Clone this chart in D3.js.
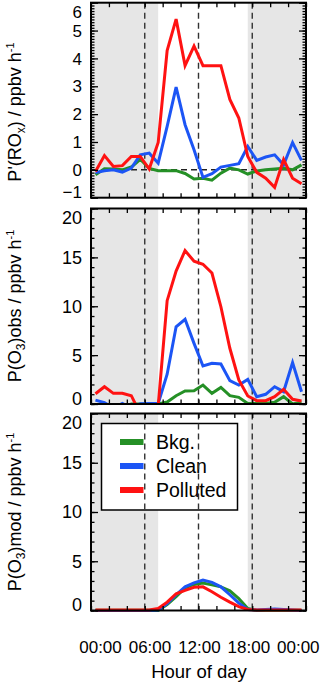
<!DOCTYPE html>
<html>
<head>
<meta charset="utf-8">
<script src="https://cdn.jsdelivr.net/npm/d3@7"></script>
<style>
  body { margin: 0; background: #fff; }
  svg { display: block; }
  text { font-family: "Liberation Sans", Arial, Helvetica, sans-serif; fill: #000; }
</style>
</head>
<body>
<svg id="chart" width="320" height="683"></svg>
<script>
// ---- data ----
var hours = [0.5, 1.5, 2.5, 3.5, 4.5, 5.5, 6.5, 7.5, 8.5, 9.5, 10.5, 11.5,
             12.5, 13.5, 14.5, 15.5, 16.5, 17.5, 18.5, 19.5, 20.5, 21.5, 22.5, 23.5];

var seriesNames  = ["Bkg.", "Clean", "Polluted"];
var seriesColors = ["#259026", "#1c55f5", "#ff1212"];

// P'(ROx)
var roxBkg      = [-0.18, 0.04, 0.03, 0.0, 0.1, 0.38, 0.05, -0.03, -0.03, -0.03, -0.13, -0.33,
                   -0.3, -0.37, -0.12, 0.06, 0.0, -0.15, -0.04, 0.0, 0.03, 0.06, 0.0, 0.18];
var roxClean    = [-0.1, -0.03, 0.0, -0.08, 0.06, 0.54, 0.6, 0.24, 1.56, 2.97, 1.62, 0.72,
                   -0.27, -0.14, 0.1, 0.16, 0.22, 0.84, 0.34, 0.46, 0.54, 0.18, 0.98, 0.34];
var roxPolluted = [-0.06, 0.51, 0.12, 0.15, 0.48, 0.48, 0.03, 0.98, 4.28, 5.41, 3.74, 4.44,
                   3.74, 3.74, 3.74, 2.53, 1.86, 0.48, -0.09, -0.3, -0.63, 0.37, -0.3, -0.5];

// P(O3)obs
var obsBkg      = [-0.5, -0.5, -0.5, -0.5, 0.0, 0.0, 0.0, 0.0, 0.2, 0.85, 1.33, 1.35,
                   1.94, 1.09, 1.69, 0.85, 0.68, 0.05, 0.05, 0.05, 0.17, 0.75, 0.0, 0.17];
var obsClean    = [0.4, 0.13, -0.4, 0.05, -0.4, 0.02, 0.05, 0.05, 3.05, 7.9, 8.66, 6.2,
                   3.89, 4.16, 4.1, 2.39, 1.94, 2.52, 0.75, 0.99, 1.77, 1.26, 4.23, 1.26];
var obsPolluted = [1.05, 1.77, 1.09, 1.09, 0.85, -1.0, -1.0, -0.2, 10.57, 13.6, 15.7, 14.6,
                   14.3, 13.4, 9.95, 5.7, 2.46, 0.82, 0.34, 0.34, 0.75, 1.5, 0.48, 0.31];

// P(O3)mod
var modBkg      = [0.02, 0.02, 0.02, 0.02, 0.02, 0.02, 0.02, 0.0, 0.6, 1.4, 2.3, 2.65,
                   2.8, 2.6, 2.4, 2.0, 1.2, 0.2, 0.0, 0.02, 0.02, 0.02, 0.02, 0.02];
var modClean    = [0.0, 0.0, 0.0, 0.0, 0.0, 0.0, 0.0, 0.05, 0.7, 1.6, 2.4, 2.8,
                   3.1, 2.85, 2.4, 1.6, 0.75, 0.1, 0.05, 0.1, 0.15, 0.1, 0.05, 0.0];
var modPolluted = [0.05, 0.05, 0.05, 0.05, 0.05, 0.05, 0.05, 0.2, 0.85, 1.7, 2.05, 2.35,
                   2.4, 1.9, 1.35, 0.85, 0.4, 0.1, 0.05, 0.05, 0.05, 0.05, 0.05, 0.05];

var xTickLabels = ["00:00", "06:00", "12:00", "18:00", "00:00"];
var dayMarks    = [6, 12, 18];                 // dashed verticals
var nightSpans  = [[0, 7.5], [17.5, 24]];      // grey shading

// ---- layout ----
var svg = d3.select("#chart");
var x = d3.scaleLinear().domain([0, 24]).range([91, 306]);

var panels = [
  { top: 2.7, bottom: 197.7, domain: [-1, 6], major: 1, minor: 0.1, zeroLine: true, clip: false,
    series: [roxBkg, roxClean, roxPolluted], titleY: 112,
    title: [["P'(RO", 0], ["x", 1], [") / ppbv h", 0], ["-1", -1]] },
  { top: 208.5, bottom: 404, domain: [0, 20], major: 5, minor: 1, zeroLine: false, clip: true,
    series: [obsBkg, obsClean, obsPolluted], titleY: 306,
    title: [["P(O", 0], ["3", 1], [")obs / ppbv h", 0], ["-1", -1]] },
  { top: 413.5, bottom: 610.5, domain: [0, 20], major: 5, minor: 1, zeroLine: false, clip: false,
    series: [modBkg, modClean, modPolluted], titleY: 512, legend: true,
    title: [["P(O", 0], ["3", 1], [")mod / ppbv h", 0], ["-1", -1]] }
];

panels.forEach(function (p, pi) {
  var y = d3.scaleLinear().domain(p.domain).range([p.bottom, p.top]);
  var g = svg.append("g");
  var w = x(24) - x(0), h = p.bottom - p.top;

  // night shading
  g.selectAll("rect.night").data(nightSpans).enter().append("rect")
    .attr("x", function (d) { return x(d[0]); })
    .attr("width", function (d) { return x(d[1]) - x(d[0]); })
    .attr("y", p.top).attr("height", h)
    .attr("fill", "#e6e6e6");

  // legend box (white) goes under the dashed lines
  var leg;
  if (p.legend) {
    leg = g.append("g");
    leg.append("rect").attr("x", 101.5).attr("y", 423.5).attr("width", 136).attr("height", 86.5)
      .attr("fill", "#fff").attr("stroke", "#000").attr("stroke-width", 1.5);
  }

  // dashed reference lines
  g.selectAll("line.mark").data(dayMarks).enter().append("line")
    .attr("x1", function (d) { return x(d); }).attr("x2", function (d) { return x(d); })
    .attr("y1", p.top).attr("y2", p.bottom)
    .attr("stroke", "#333").attr("stroke-width", 1.4).attr("stroke-dasharray", "6,4");
  if (p.zeroLine) {
    g.append("line").attr("x1", x(0)).attr("x2", x(24)).attr("y1", y(0)).attr("y2", y(0))
      .attr("stroke", "#222").attr("stroke-width", 1.5).attr("stroke-dasharray", "6,4");
  }

  // data lines
  var lineG = g.append("g");
  if (p.clip) {
    svg.append("clipPath").attr("id", "clip" + pi).append("rect")
      .attr("x", x(0)).attr("y", p.top).attr("width", w).attr("height", h);
    lineG.attr("clip-path", "url(#clip" + pi + ")");
  }
  var line = d3.line().x(function (d, i) { return x(hours[i]); }).y(function (d) { return y(d); });
  lineG.selectAll("path").data(p.series).enter().append("path")
    .attr("d", line)
    .attr("fill", "none")
    .attr("stroke", function (d, i) { return seriesColors[i]; })
    .attr("stroke-width", 3)
    .attr("stroke-linejoin", "miter");

  // legend entries
  if (p.legend) {
    seriesNames.forEach(function (name, i) {
      var ly = 442 + i * 24;
      leg.append("line").attr("x1", 120).attr("x2", 143.5).attr("y1", ly).attr("y2", ly)
        .attr("stroke", seriesColors[i]).attr("stroke-width", 6);
      leg.append("text").attr("x", 156).attr("y", ly).attr("dy", "0.36em")
        .attr("font-size", 19.5).text(name);
    });
  }

  // ticks (inward, all four sides)
  function yAxis(gen, step, size) {
    var vals = d3.range(p.domain[0], p.domain[1] + step / 2, step);
    return gen(y).tickValues(vals).tickSize(size).tickSizeOuter(0).tickFormat("");
  }
  function xAxis(gen, size) {
    return gen(x).tickValues(d3.range(0, 24.01, 2)).tickSize(size).tickSizeOuter(0).tickFormat("");
  }
  g.append("g").attr("transform", "translate(" + x(0) + ",0)").call(yAxis(d3.axisLeft, p.minor, -3.5));
  g.append("g").attr("transform", "translate(" + x(0) + ",0)").call(yAxis(d3.axisLeft, p.major, -7));
  g.append("g").attr("transform", "translate(" + x(24) + ",0)").call(yAxis(d3.axisRight, p.minor, -3.5));
  g.append("g").attr("transform", "translate(" + x(24) + ",0)").call(yAxis(d3.axisRight, p.major, -7));
  g.append("g").attr("transform", "translate(0," + p.bottom + ")").call(xAxis(d3.axisBottom, -4.5));
  g.append("g").attr("transform", "translate(0," + p.top + ")").call(xAxis(d3.axisTop, -4.5));
  g.selectAll(".domain").remove();
  g.selectAll(".tick line").attr("stroke", "#000").attr("stroke-width", 1.3);

  // frame
  g.append("rect").attr("x", x(0)).attr("y", p.top).attr("width", w).attr("height", h)
    .attr("fill", "none").attr("stroke", "#000").attr("stroke-width", 2);

  // y tick labels (kept inside the panel's height)
  var labVals = d3.range(p.domain[0], p.domain[1] + p.major / 2, p.major);
  g.selectAll("text.ylab").data(labVals).enter().append("text")
    .attr("x", 82)
    .attr("y", function (d) { return Math.min(Math.max(y(d), p.top + 9), p.bottom - 5.5); })
    .attr("dy", "0.36em")
    .attr("text-anchor", "end")
    .attr("font-size", pi === 0 ? 17 : 18)
    .text(function (d) { return d3.format("d")(d); });

  // axis title
  var t = g.append("text").attr("transform", "translate(21," + p.titleY + ") rotate(-90)")
    .attr("text-anchor", "middle").attr("font-size", 18);
  p.title.forEach(function (part, k) {
    var ts = t.append("tspan").text(part[0]);
    if (part[1] === 1) ts.attr("font-size", 12).attr("dy", 4);
    else if (part[1] === -1) ts.attr("font-size", 11).attr("dy", -7);
    else ts.attr("dy", k === 0 ? 0 : -4);
  });
});

// x tick labels and title under the last panel
var xl = d3.scalePoint().domain(d3.range(xTickLabels.length)).range([100.5, 298.3]);
svg.selectAll("text.xlab").data(xTickLabels).enter().append("text")
  .attr("x", function (d, i) { return xl(i); })
  .attr("y", 653)
  .attr("text-anchor", "middle")
  .attr("font-size", 17)
  .text(function (d) { return d; });

svg.append("text").attr("x", 199).attr("y", 678).attr("text-anchor", "middle")
  .attr("font-size", 18.5).text("Hour of day");
</script>
</body>
</html>
